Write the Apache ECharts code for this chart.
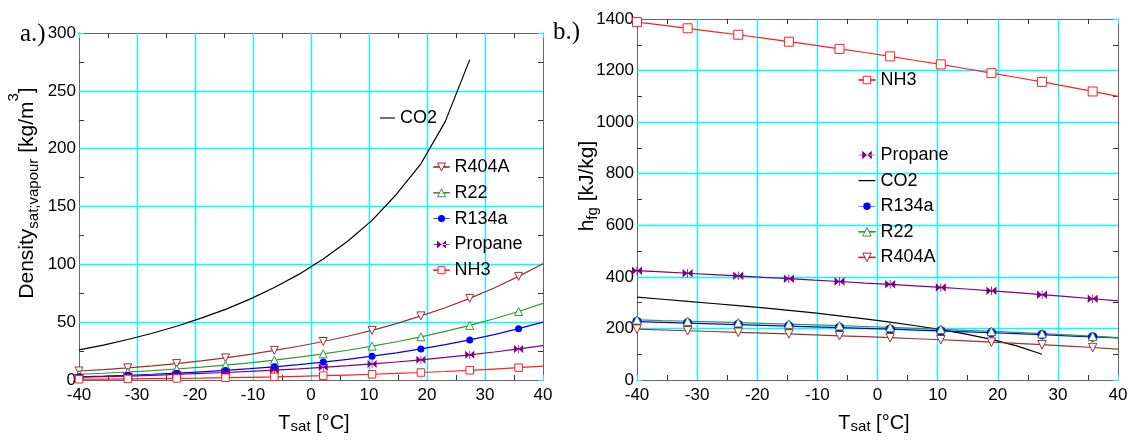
<!DOCTYPE html>
<html>
<head>
<meta charset="utf-8">
<script src="https://cdn.jsdelivr.net/npm/echarts@6/dist/echarts.min.js"></script>
<style>
  html, body { margin: 0; padding: 0; background: #fff; }
  #chart { width: 1135px; height: 441px; }
</style>
</head>
<body>
<div id="chart"></div>
<script>
// Saturation temperature grid [°C] shared by every curve
const T = [-40, -35.79, -31.58, -27.37, -23.16, -18.95, -14.74, -10.53, -6.32, -2.11,
           2.11, 6.32, 10.53, 14.74, 18.95, 23.16, 27.37, 31.58, 35.79, 40];

// a.) saturated vapour density [kg/m3]
const rhoCO2     = [26.1, 30.2, 35.0, 40.4, 46.5, 53.5, 61.1, 69.9, 79.9, 91.3,
                    104.6, 120.0, 138.0, 160.6, 186.9, 223.6, 277.0];
const rhoR404A   = [7.8, 9.0, 10.5, 12.2, 14.2, 16.5, 19.1, 22.1, 25.6, 29.2,
                    33.3, 37.8, 42.9, 48.8, 55.4, 62.5, 70.6, 79.6, 89.6, 100.5];
const rhoR22     = [4.95, 5.85, 6.93, 8.14, 9.52, 11.09, 12.82, 14.84, 17.12, 19.73,
                    22.62, 25.71, 29.24, 33.05, 37.34, 42.05, 47.23, 52.97, 59.2, 66.2];
const rhoR134a   = [2.77, 3.38, 4.12, 4.96, 5.93, 7.07, 8.31, 9.79, 11.43, 13.34,
                    15.49, 17.87, 20.57, 23.5, 26.87, 30.54, 34.67, 39.3, 44.35, 50.1];
const rhoPropane = [2.42, 2.88, 3.42, 4.06, 4.8, 5.65, 6.49, 7.46, 8.52, 9.7,
                    10.98, 12.35, 13.89, 15.58, 17.48, 19.53, 21.76, 24.21, 26.87, 29.8];
const rhoNH3     = [0.64, 0.79, 0.96, 1.16, 1.4, 1.67, 1.98, 2.34, 2.74, 3.2,
                    3.72, 4.29, 4.95, 5.66, 6.48, 7.37, 8.37, 9.47, 10.65, 12.0];

// b.) latent heat of vaporisation [kJ/kg]
const hfgNH3     = [1388, 1376, 1364, 1351, 1339, 1326, 1312, 1299, 1284, 1270,
                    1255, 1239, 1224, 1207, 1190, 1173, 1156, 1138, 1119, 1100];
const hfgPropane = [424, 419, 414, 409, 404, 398, 393, 387, 382, 376,
                    371, 365, 359, 353, 346, 339, 331, 323, 315, 307];
const hfgCO2     = [321.4, 313.1, 304.9, 296.7, 288.5, 279.9, 270.0, 260.0, 248.5, 236.8,
                    224.2, 210.4, 195.4, 178.1, 157.7, 132.6, 100.0];
const hfgR134a   = [226, 223.3, 220.6, 217.8, 215.1, 212.2, 209.3, 206.4, 203.3, 200.2,
                    197.0, 193.7, 190.3, 186.8, 183.2, 179.5, 175.6, 171.5, 167.2, 163.0];
const hfgR22     = [233, 230.4, 227.9, 225.2, 222.5, 219.7, 216.8, 213.8, 210.7, 207.4,
                    204.0, 200.4, 196.7, 192.8, 188.7, 184.4, 179.8, 175.0, 169.9, 164.5];
const hfgR404A   = [197, 194, 191, 188, 185, 182, 178.5, 175, 171.5, 168,
                    164, 160, 156, 151.5, 147, 142, 137, 131.5, 126, 120];

// Axis ticks
const tempTicks = { min: -40, max: 40, step: 10 };
const rhoTicks  = { min: 0, max: 300, step: 50 };
const hfgTicks  = { min: 0, max: 1400, step: 200 };

const FONT = "'Liberation Sans', Arial, Helvetica, sans-serif";
const FRAME = '#666';
const CYAN = '#00ffff';
const BOWTIE = 'path://M0,0 L5,4 L0,8 Z M10,0 L5,4 L10,8 Z M4.6,0 L5.4,0 L5.4,8 L4.6,8 Z';

const C = {
  CO2: '#000000', R404A: '#9b3030', R22: '#339933',
  R134a: '#0000ff', Propane: '#800080', NH3: '#ff2020'
};

// Legend keys: a short line with the marker in the middle (16 units wide)
const BAR_L = (x) => `M0,3.7 L${x},3.7 L${x},4.3 L0,4.3 Z`;
const BAR_R = (x) => `M${x},3.7 L16,3.7 L16,4.3 L${x},4.3 Z`;
const KEY = {
  CO2: 'path://M0,3.4 L16,3.4 L16,4.6 L0,4.6 Z',
  R404A: 'path://M4,0 L12,0 L8,8 Z ' + BAR_L(6.1) + ' ' + BAR_R(9.9),
  R22: 'path://M8,0 L12,8 L4,8 Z ' + BAR_L(6.1) + ' ' + BAR_R(9.9),
  R134a: 'path://M4.5,4 A3.5,3.5 0 1,1 11.5,4 A3.5,3.5 0 1,1 4.5,4 Z ' + BAR_L(4.6) + ' ' + BAR_R(11.4),
  Propane: 'path://M3.5,0 L8,4 L3.5,8 Z M12.5,0 L8,4 L12.5,8 Z M0,3.7 L16,3.7 L16,4.3 L0,4.3 Z',
  NH3: 'path://M4.5,0.5 L11.5,0.5 L11.5,7.5 L4.5,7.5 Z ' + BAR_L(4.5) + ' ' + BAR_R(11.5)
};
const HOLLOW = { R404A: true, R22: true, NH3: true };

// Main axes carry labels and the cyan grid; mirrored axes close the frame with inner ticks
function axis(kind, grid, pos, ticks, main) {
  return {
    type: 'value', gridIndex: grid, position: pos, z: 1,
    min: ticks.min, max: ticks.max, interval: ticks.step,
    axisLine: { show: true, onZero: false, lineStyle: { color: FRAME, width: 1 } },
    axisTick: { show: true, inside: true, length: 5, lineStyle: { color: CYAN, width: 1 } },
    minorTick: { show: true, splitNumber: 2, length: 5, lineStyle: { color: '#333', width: 1 } },
    axisLabel: {
      show: main, margin: kind === 'x' ? 7 : 3, fontSize: 17, color: '#000', fontFamily: FONT,
      formatter: (v) => String(v)
    },
    splitLine: {
      show: main, showMinLine: false, showMaxLine: false,
      lineStyle: { color: CYAN, width: 1.3, type: 'solid' }
    },
    minorSplitLine: { show: false },
    splitArea: { show: false }
  };
}

// Markers sit on every second computed point
function points(ys) {
  return ys.map((y, i) => (i % 2 ? { value: [T[i], y], symbol: 'none' } : { value: [T[i], y] }));
}

function curve(name, grid, ys, sym) {
  const s = {
    name, type: 'line', xAxisIndex: grid * 2, yAxisIndex: grid * 2,
    data: points(ys), showAllSymbol: true, z: 3,
    lineStyle: { color: C[name], width: 1.2 },
    emphasis: { disabled: true },
    animation: false
  };
  if (!sym) {
    s.symbol = 'none';
    s.itemStyle = { color: C[name] };
  } else {
    s.symbol = sym.type;
    s.symbolSize = sym.size;
    if (sym.rotate) s.symbolRotate = sym.rotate;
    s.itemStyle = sym.hollow
      ? { color: '#ffffff', borderColor: C[name], borderWidth: 1 }
      : { color: C[name], borderWidth: 0 };
  }
  return s;
}

const legendText = { fontSize: 18, color: '#000', fontFamily: FONT };
function entry(name) {
  return {
    name, icon: KEY[name],
    itemStyle: HOLLOW[name]
      ? { color: '#ffffff', borderColor: C[name], borderWidth: 1 }
      : { color: C[name], borderColor: C[name], borderWidth: 0 }
  };
}
function legend(names, left, top, w, gap) {
  return {
    data: names.map(entry),
    left, top, orient: 'vertical', padding: 0,
    itemWidth: w, itemHeight: 10, itemGap: gap, symbolKeepAspect: true,
    selectedMode: false, textStyle: legendText
  };
}

const titleRich = {
  m: { fontSize: 21, fontFamily: FONT, color: '#000' },
  s: { fontSize: 15, fontFamily: FONT, color: '#000', padding: [12, 0, 0, 0] },
  p: { fontSize: 15, fontFamily: FONT, color: '#000', padding: [0, 0, 27, 0] }
};
const xRich = {
  m: { fontSize: 20, fontFamily: FONT, color: '#000' },
  s: { fontSize: 15, fontFamily: FONT, color: '#000', padding: [8, 0, 0, 0] }
};

const option = {
  backgroundColor: '#fff',
  animation: false,
  grid: [
    { left: 79, top: 33, width: 464, height: 347 },
    { left: 637, top: 19, width: 481, height: 361 }
  ],
  xAxis: [
    axis('x', 0, 'bottom', tempTicks, true), axis('x', 0, 'top', tempTicks, false),
    axis('x', 1, 'bottom', tempTicks, true), axis('x', 1, 'top', tempTicks, false)
  ],
  yAxis: [
    axis('y', 0, 'left', rhoTicks, true), axis('y', 0, 'right', rhoTicks, false),
    axis('y', 1, 'left', hfgTicks, true), axis('y', 1, 'right', hfgTicks, false)
  ],
  legend: [
    legend(['CO2'], 380, 109, 15, 8),
    legend(['R404A', 'R22', 'R134a', 'Propane', 'NH3'], 433, 158, 16, 7.8),
    legend(['NH3'], 858, 71, 17, 8),
    legend(['Propane', 'CO2', 'R134a', 'R22', 'R404A'], 858, 146, 17, 7.6)
  ],
  series: [
    curve('CO2', 0, rhoCO2, null),
    curve('R404A', 0, rhoR404A, { type: 'triangle', size: 8, rotate: 180, hollow: true }),
    curve('R22', 0, rhoR22, { type: 'triangle', size: 8, hollow: true }),
    curve('R134a', 0, rhoR134a, { type: 'circle', size: 7 }),
    curve('Propane', 0, rhoPropane, { type: BOWTIE, size: [9, 8] }),
    curve('NH3', 0, rhoNH3, { type: 'rect', size: 7.5, hollow: true }),

    curve('NH3', 1, hfgNH3, { type: 'rect', size: 9, hollow: true }),
    curve('Propane', 1, hfgPropane, { type: BOWTIE, size: [10, 8.5] }),
    curve('CO2', 1, hfgCO2, null),
    curve('R134a', 1, hfgR134a, { type: 'circle', size: 9.5 }),
    curve('R22', 1, hfgR22, { type: 'triangle', size: 8.5, hollow: true }),
    curve('R404A', 1, hfgR404A, { type: 'triangle', size: 8.5, rotate: 180, hollow: true })
  ],
  graphic: [
    { type: 'text', x: 20, y: 34, style: { text: 'a.)', fontSize: 25, fontFamily: "'Liberation Serif', 'Times New Roman', serif", fill: '#000', verticalAlign: 'middle' } },
    { type: 'text', x: 553, y: 32, style: { text: 'b.)', fontSize: 25, fontFamily: "'Liberation Serif', 'Times New Roman', serif", fill: '#000', verticalAlign: 'middle' } },
    { type: 'text', x: 27.5, y: 193, rotation: Math.PI / 2,
      style: { text: '{m|Density}{s|sat;vapour}{m| [kg/m}{p|3}{m|]}', rich: titleRich, align: 'center', verticalAlign: 'middle' } },
    { type: 'text', x: 587, y: 186, rotation: Math.PI / 2,
      style: { text: '{m|h}{s|fg}{m| [kJ/kg]}', rich: titleRich, align: 'center', verticalAlign: 'middle' } },
    { type: 'text', x: 314, y: 423,
      style: { text: '{m|T}{s|sat}{m| [°C]}', rich: xRich, align: 'center', verticalAlign: 'middle' } },
    { type: 'text', x: 874, y: 423,
      style: { text: '{m|T}{s|sat}{m| [°C]}', rich: xRich, align: 'center', verticalAlign: 'middle' } }
  ]
};

const chart = echarts.init(document.getElementById('chart'), null, { renderer: 'canvas' });
chart.setOption(option);
</script>
</body>
</html>
